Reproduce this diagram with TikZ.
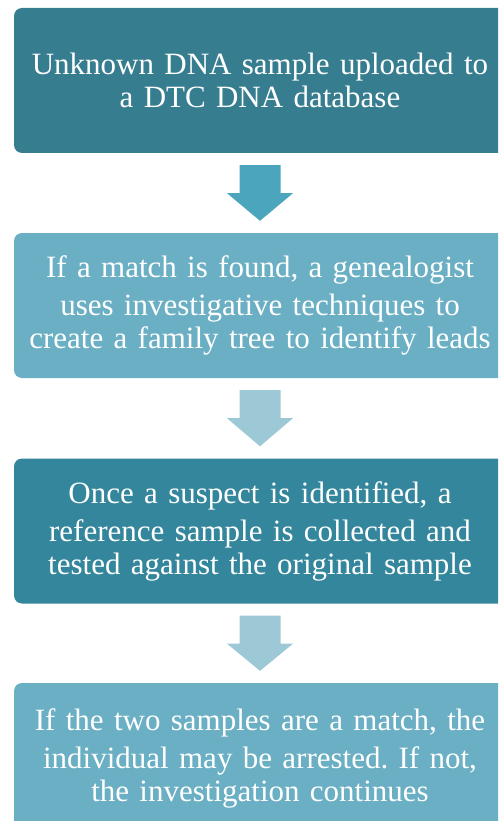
\documentclass[tikz,border=0pt]{standalone}
\usepackage{fontspec}
\setmainfont{Liberation Serif}
\usepackage{tikz}
\usetikzlibrary{calc}
\usepackage{xcolor}
\frenchspacing
\definecolor{stepdark}{HTML}{377D90}
\definecolor{stepmid}{HTML}{33869B}
\definecolor{steplight}{HTML}{6AAFC4}
\definecolor{arrdark}{HTML}{4BA6BD}
\definecolor{arrlight}{HTML}{9DC8D6}
\tikzset{stepbox/.style={white,rectangle,rounded corners=8pt,minimum width=492pt,minimum height=145pt,text width=480pt,align=center,inner sep=0pt,font=\fontsize{31}{33}\selectfont}}
\tikzset{dark/.style={stepbox,fill=stepdark}}
\tikzset{mid/.style={stepbox,fill=stepmid,execute at begin node=\vspace{5pt}}}
\tikzset{light/.style={stepbox,fill=steplight,execute at begin node=\vspace{5pt}}}
\tikzset{arrA/.style={fill=arrdark}}
\tikzset{arrB/.style={fill=arrlight}}

\begin{document}
\begin{tikzpicture}[x=1pt,y=1pt]
    \useasboundingbox (0,0) rectangle (498,-821);
    \clip (0,0) rectangle (498,-821);

    \node[dark] (upload) at (260,-80.5) {Unknown DNA sample uploaded to\\a DTC DNA database};
    \node[light] (match) at (260,-305.5) {If a match is found, a genealogist\\uses investigative techniques to\\create a family tree to identify leads};
    \node[mid] (suspect) at (260,-531) {Once a suspect is identified, a\\reference sample is collected and\\tested against the original sample};
    \node[light,minimum height=151pt] (arrest) at (260,-758.5) {If the two samples are a match, the\\individual may be arrested. If not,\\the investigation continues};

    \fill[arrA] ($(upload.south)+(-20.5,-12)$) -- ($(upload.south)+(20.5,-12)$) -- ($(upload.south)+(20.5,-40)$) -- ($(upload.south)+(33,-40)$) -- ($(match.north)+(0,12)$) -- ($(upload.south)+(-33,-40)$) -- ($(upload.south)+(-20.5,-40)$) -- cycle;

    \fill[arrB] ($(match.south)+(-20.5,-12)$) -- ($(match.south)+(20.5,-12)$) -- ($(match.south)+(20.5,-40)$) -- ($(match.south)+(33,-40)$) -- ($(suspect.north)+(0,12)$) -- ($(match.south)+(-33,-40)$) -- ($(match.south)+(-20.5,-40)$) -- cycle;

    \fill[arrB] ($(suspect.south)+(-20.5,-12)$) -- ($(suspect.south)+(20.5,-12)$) -- ($(suspect.south)+(20.5,-40)$) -- ($(suspect.south)+(33,-40)$) -- ($(arrest.north)+(0,12)$) -- ($(suspect.south)+(-33,-40)$) -- ($(suspect.south)+(-20.5,-40)$) -- cycle;
\end{tikzpicture}
\end{document}
